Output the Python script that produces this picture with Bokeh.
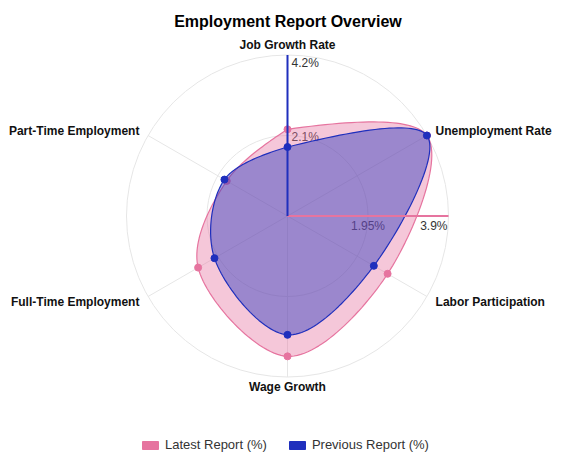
import math
from bokeh.plotting import figure
from bokeh.models import Range1d, Legend, LegendItem, ColumnDataSource
from bokeh.core.properties import value
from bokeh.embed import file_html
from bokeh.resources import INLINE

# ---------------- data ----------------
categories = ["Job Growth Rate", "Unemployment Rate", "Labor Participation",
              "Wage Growth", "Full-Time Employment", "Part-Time Employment"]
latest = [2.1, 3.9, 2.8, 3.4, 2.5, 1.7]
previous = [1.8, 4.2, 2.6, 3.1, 2.2, 1.9]
latest_ticks = [1.95, 3.9]
previous_ticks = [2.1, 4.2]
series_names = ["Latest Report (%)", "Previous Report (%)"]
title_text = "Employment Report Overview"

# ---------------- style / layout ----------------
W, H = 571, 473
CX, CY = 287.0, 215.5      # centre of radar in px (from top-left)
R = 161.0                  # outer radius in px
PINK = "#e6749f"
BLUE = "#1f2fbd"
GRID = "#e6e6e6"
TXT = "#333333"
FONT = value("Liberation Sans")

# data space: 1 unit = outer radius
p = figure(width=W, height=H, output_backend="svg", toolbar_location=None,
           x_range=Range1d(-CX / R, (W - CX) / R),
           y_range=Range1d(-(H - CY) / R, CY / R),
           min_border=0)
p.axis.visible = False
p.grid.visible = False
p.outline_line_color = None
p.background_fill_color = "white"
p.border_fill_color = "white"

n = len(categories)
angles = [math.pi / 2 - i * 2 * math.pi / n for i in range(n)]


def to_xy(vals, vmax):
    xs = [v / vmax * math.cos(a) for v, a in zip(vals, angles)]
    ys = [v / vmax * math.sin(a) for v, a in zip(vals, angles)]
    return xs, ys


def tangent(prev, cur, nxt, s=1.0):
    # centripetal Catmull-Rom control points (in / out) for cur
    d1x, d1y = prev[0] - cur[0], prev[1] - cur[1]
    d2x, d2y = nxt[0] - cur[0], nxt[1] - cur[1]
    d1a = (d1x * d1x + d1y * d1y) ** 0.25
    d2a = (d2x * d2x + d2y * d2y) ** 0.25
    numx = (d2a * d2a * d1x - d1a * d1a * d2x) * s
    numy = (d2a * d2a * d1y - d1a * d1a * d2y) * s
    den1 = 3 * d2a * (d1a + d2a)
    den2 = 3 * d1a * (d1a + d2a)
    cin = (cur[0] + numx / den1, cur[1] + numy / den1)
    cout = (cur[0] - numx / den2, cur[1] - numy / den2)
    return cin, cout


def smooth_path(xs, ys, steps=30):
    # open spline through the points, closed by repeating the first one
    pts = list(zip(xs, ys)) + [(xs[0], ys[0])]
    m = len(pts)
    tans = [tangent(pts[i - 1], pts[i], pts[i + 1]) for i in range(1, m - 1)]
    ox, oy = [], []

    def quad(p0, c, p1):
        for k in range(steps):
            u = k / steps
            ox.append((1 - u) ** 2 * p0[0] + 2 * (1 - u) * u * c[0] + u * u * p1[0])
            oy.append((1 - u) ** 2 * p0[1] + 2 * (1 - u) * u * c[1] + u * u * p1[1])

    def cubic(p0, c0, c1, p1):
        for k in range(steps):
            u = k / steps
            a = (1 - u) ** 3; b = 3 * (1 - u) ** 2 * u; c = 3 * (1 - u) * u ** 2; d = u ** 3
            ox.append(a * p0[0] + b * c0[0] + c * c1[0] + d * p1[0])
            oy.append(a * p0[1] + b * c0[1] + c * c1[1] + d * p1[1])

    quad(pts[0], tans[0][0], pts[1])
    for i in range(2, m - 1):
        cubic(pts[i - 1], tans[i - 2][1], tans[i - 1][0], pts[i])
    quad(pts[m - 2], tans[m - 3][1], pts[m - 1])
    ox.append(pts[-1][0]); oy.append(pts[-1][1])
    return ox, oy


# grid circles
p.circle(x=[0, 0], y=[0, 0], radius=[0.5, 1.0], fill_color=None,
         line_color=GRID, line_width=1)
# spokes
p.segment(x0=[0] * n, y0=[0] * n, x1=[math.cos(a) for a in angles],
          y1=[math.sin(a) for a in angles], line_color=GRID, line_width=1)

# tick labels (under the fills)
lmax = max(latest_ticks)
pmax = max(previous_ticks)
p.text(x=[t / lmax for t in latest_ticks], y=[0, 0],
       text=[f"{t:g}%" for t in latest_ticks],
       text_align=["center", "right"], text_baseline="middle",
       x_offset=[0, -1], y_offset=10,
       text_font=FONT, text_font_size="12px", text_color=TXT)
p.text(x=[0, 0], y=[t / pmax for t in previous_ticks],
       text=[f"{t:g}%" for t in previous_ticks],
       text_align="left", text_baseline="middle",
       x_offset=4, y_offset=[1, 8],
       text_font=FONT, text_font_size="12px", text_color=TXT)

# series
lx, ly = to_xy(latest, lmax)
px_, py_ = to_xy(previous, pmax)
sx, sy = smooth_path(lx, ly)
p.patch(sx, sy, fill_color=PINK, fill_alpha=0.4, line_color=PINK, line_width=1.2)
p.scatter(lx, ly, size=7, marker="circle", fill_color=PINK, line_color=PINK)
sx2, sy2 = smooth_path(px_, py_)
p.patch(sx2, sy2, fill_color=BLUE, fill_alpha=0.42, line_color=BLUE, line_width=1.2)

# axis lines
p.segment(x0=[0], y0=[0], x1=[1], y1=[0], line_color=PINK, line_width=2)
p.segment(x0=[0], y0=[0], x1=[0], y1=[1], line_color=BLUE, line_width=2)
p.scatter(px_, py_, size=7, marker="circle", fill_color=BLUE, line_color=BLUE)

# category labels
lab_r = 1 + 10 / R
lab_x, lab_y, aligns = [], [], []
for a in angles:
    c = math.cos(a)
    lab_x.append(lab_r * c)
    lab_y.append(lab_r * math.sin(a))
    aligns.append("center" if abs(c) < 0.1 else ("left" if c > 0 else "right"))
p.text(x=lab_x, y=lab_y, text=categories, text_align=aligns,
       text_baseline="middle", text_font=FONT, text_font_style="bold",
       text_font_size="12px", text_color="#111111")

# title
p.text(x=[0.5 / R], y=[(CY - 21) / R], text=[title_text],
       text_align="center", text_baseline="middle", text_font=FONT,
       text_font_style="bold", text_font_size="16px", text_color="#000000")

# legend (solid boxes); the legend proxies sit outside the visible range
off = dict(x=[50.0], y=[50.0])
r1 = p.rect(x="x", y="y", width=0.1, height=0.1, source=ColumnDataSource(off),
            fill_color=PINK, line_color=PINK)
r2 = p.rect(x="x", y="y", width=0.1, height=0.1, source=ColumnDataSource(off),
            fill_color=BLUE, line_color=BLUE)
legend = Legend(items=[LegendItem(label=series_names[0], renderers=[r1], index=0),
                       LegendItem(label=series_names[1], renderers=[r2], index=0)],
                orientation="horizontal", location=(140, 21),
                padding=0, margin=0, spacing=20, label_standoff=5,
                glyph_width=20, glyph_height=10, label_height=10,
                border_line_color=None, background_fill_alpha=0,
                label_text_font="Liberation Sans", label_text_font_size="13px",
                label_text_color=TXT)
p.add_layout(legend)

open("out.html", "w").write(file_html(p, INLINE))
